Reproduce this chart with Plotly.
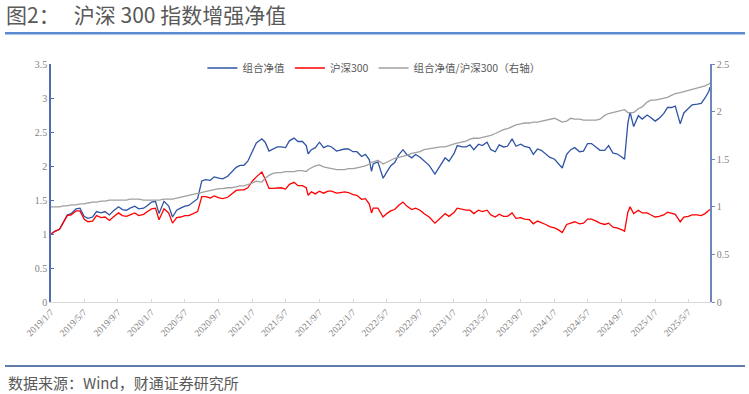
import plotly.graph_objects as go

# ---------------- data ----------------
dates = [
    # 2019
    "2019-01-07", "2019-01-21", "2019-02-07", "2019-02-21", "2019-03-07", "2019-03-21",
    "2019-04-08", "2019-04-22", "2019-05-07", "2019-05-21", "2019-06-07", "2019-06-21",
    "2019-07-08", "2019-07-22", "2019-08-07", "2019-08-21", "2019-09-09", "2019-09-23",
    "2019-10-08", "2019-10-21", "2019-11-07", "2019-11-21", "2019-12-09", "2019-12-23",
    # 2020
    "2020-01-07", "2020-01-21", "2020-02-03", "2020-02-21", "2020-03-09", "2020-03-23",
    "2020-04-07", "2020-04-21", "2020-05-07", "2020-05-21", "2020-06-08", "2020-06-22",
    "2020-07-07", "2020-07-21", "2020-08-07", "2020-08-21", "2020-09-07", "2020-09-21",
    "2020-10-09", "2020-10-21", "2020-11-09", "2020-11-23", "2020-12-07", "2020-12-21",
    # 2021
    "2021-01-07", "2021-01-21", "2021-02-10", "2021-02-22", "2021-03-08", "2021-03-22",
    "2021-04-07", "2021-04-21", "2021-05-07", "2021-05-21", "2021-06-07", "2021-06-21",
    "2021-07-07", "2021-07-21", "2021-07-28", "2021-08-09", "2021-08-23", "2021-09-07",
    "2021-09-22", "2021-10-08", "2021-10-21", "2021-11-08", "2021-11-22", "2021-12-07",
    "2021-12-21",
    # 2022
    "2022-01-07", "2022-01-21", "2022-02-07", "2022-02-21", "2022-03-07", "2022-03-15",
    "2022-03-21", "2022-04-07", "2022-04-26", "2022-05-09", "2022-05-23", "2022-06-07",
    "2022-06-21", "2022-07-07", "2022-07-21", "2022-08-08", "2022-08-22", "2022-09-07",
    "2022-09-21", "2022-10-10", "2022-10-31", "2022-11-21", "2022-12-07", "2022-12-21",
    # 2023
    "2023-01-09", "2023-01-20", "2023-02-07", "2023-02-21", "2023-03-07", "2023-03-21",
    "2023-04-07", "2023-04-21", "2023-05-08", "2023-05-22", "2023-06-07", "2023-06-21",
    "2023-07-07", "2023-07-21", "2023-08-07", "2023-08-21", "2023-09-07", "2023-09-21",
    "2023-10-09", "2023-10-23", "2023-11-07", "2023-11-21", "2023-12-07", "2023-12-21",
    # 2024
    "2024-01-08", "2024-01-22", "2024-02-05", "2024-02-21", "2024-03-07", "2024-03-21",
    "2024-04-08", "2024-04-22", "2024-05-07", "2024-05-21", "2024-06-07", "2024-06-21",
    "2024-07-08", "2024-07-22", "2024-08-07", "2024-08-21", "2024-09-09", "2024-09-18",
    "2024-09-30", "2024-10-08", "2024-10-21", "2024-11-07", "2024-11-21", "2024-12-09",
    "2024-12-23",
    # 2025
    "2025-01-07", "2025-01-21", "2025-02-07", "2025-02-21", "2025-03-07", "2025-03-21",
    "2025-04-08", "2025-04-21", "2025-05-07", "2025-05-21", "2025-06-09", "2025-06-23",
    "2025-07-07", "2025-07-21", "2025-07-25",
]

portfolio_nav = [
    # 2019
    1.00, 1.04, 1.07, 1.17, 1.28, 1.30, 1.37, 1.38, 1.26, 1.23, 1.25, 1.33,
    1.31, 1.33, 1.28, 1.34, 1.40, 1.36, 1.35, 1.38, 1.41, 1.37, 1.38, 1.42,
    # 2020
    1.47, 1.48, 1.30, 1.48, 1.41, 1.25, 1.35, 1.38, 1.41, 1.42, 1.47, 1.52,
    1.78, 1.80, 1.79, 1.84, 1.82, 1.81, 1.85, 1.90, 1.98, 2.01, 2.01, 2.07,
    # 2021
    2.23, 2.34, 2.40, 2.35, 2.22, 2.25, 2.28, 2.28, 2.27, 2.37, 2.41, 2.36,
    2.36, 2.30, 2.18, 2.24, 2.27, 2.35, 2.27, 2.30, 2.28, 2.22, 2.24, 2.25,
    2.25,
    # 2022
    2.21, 2.21, 2.14, 2.17, 2.09, 1.92, 2.03, 2.06, 1.82, 1.91, 2.00, 2.05,
    2.16, 2.24, 2.17, 2.12, 2.17, 2.13, 2.08, 2.01, 1.88, 2.02, 2.12, 2.07,
    # 2023
    2.19, 2.30, 2.28, 2.28, 2.31, 2.24, 2.32, 2.30, 2.35, 2.24, 2.21, 2.31,
    2.28, 2.29, 2.40, 2.29, 2.32, 2.29, 2.27, 2.17, 2.25, 2.23, 2.18, 2.13,
    # 2024
    2.10, 2.03, 1.97, 2.17, 2.24, 2.27, 2.21, 2.22, 2.33, 2.33, 2.27, 2.23,
    2.23, 2.30, 2.19, 2.18, 2.13, 2.10, 2.63, 2.79, 2.58, 2.74, 2.69, 2.75,
    2.71,
    # 2025
    2.66, 2.70, 2.77, 2.86, 2.86, 2.88, 2.62, 2.78, 2.84, 2.90, 2.91, 2.92,
    3.00, 3.10, 3.16,
]

hs300_nav = [
    # 2019
    1.00, 1.04, 1.07, 1.16, 1.27, 1.28, 1.34, 1.34, 1.22, 1.18, 1.19, 1.27,
    1.24, 1.25, 1.20, 1.25, 1.31, 1.27, 1.26, 1.28, 1.31, 1.27, 1.29, 1.33,
    # 2020
    1.37, 1.38, 1.21, 1.37, 1.31, 1.16, 1.24, 1.25, 1.27, 1.27, 1.30, 1.33,
    1.55, 1.55, 1.53, 1.56, 1.53, 1.52, 1.54, 1.58, 1.64, 1.65, 1.65, 1.68,
    # 2021
    1.78, 1.84, 1.91, 1.81, 1.67, 1.67, 1.68, 1.68, 1.66, 1.73, 1.76, 1.71,
    1.71, 1.68, 1.57, 1.62, 1.59, 1.63, 1.60, 1.63, 1.63, 1.60, 1.61, 1.62,
    1.61,
    # 2022
    1.58, 1.57, 1.51, 1.52, 1.44, 1.31, 1.38, 1.38, 1.25, 1.30, 1.34, 1.36,
    1.42, 1.47, 1.41, 1.36, 1.38, 1.35, 1.30, 1.25, 1.16, 1.24, 1.30, 1.26,
    # 2023
    1.32, 1.38, 1.36, 1.35, 1.35, 1.30, 1.35, 1.33, 1.35, 1.28, 1.25, 1.29,
    1.26, 1.26, 1.31, 1.23, 1.24, 1.22, 1.21, 1.15, 1.19, 1.17, 1.14, 1.11,
    # 2024
    1.09, 1.06, 1.02, 1.14, 1.16, 1.18, 1.15, 1.16, 1.22, 1.22, 1.19, 1.16,
    1.14, 1.16, 1.10, 1.09, 1.06, 1.04, 1.32, 1.40, 1.30, 1.35, 1.31, 1.31,
    1.28,
    # 2025
    1.25, 1.26, 1.28, 1.32, 1.30, 1.29, 1.18, 1.25, 1.26, 1.28, 1.28, 1.27,
    1.30, 1.34, 1.36,
]

relative_nav = [
    # 2019
    1.00, 1.00, 1.00, 1.01, 1.01, 1.02, 1.02, 1.03, 1.03, 1.04, 1.05, 1.05,
    1.06, 1.06, 1.07, 1.07, 1.07, 1.07, 1.07, 1.08, 1.08, 1.08, 1.07, 1.07,
    # 2020
    1.07, 1.07, 1.07, 1.08, 1.08, 1.08, 1.09, 1.10, 1.11, 1.12, 1.13, 1.14,
    1.15, 1.16, 1.17, 1.18, 1.19, 1.19, 1.20, 1.20, 1.21, 1.22, 1.22, 1.23,
    # 2021
    1.25, 1.27, 1.26, 1.30, 1.33, 1.35, 1.36, 1.36, 1.37, 1.37, 1.37, 1.38,
    1.38, 1.37, 1.39, 1.41, 1.43, 1.44, 1.42, 1.41, 1.40, 1.39, 1.39, 1.39,
    1.40,
    # 2022
    1.40, 1.41, 1.42, 1.43, 1.45, 1.47, 1.47, 1.49, 1.45, 1.47, 1.49, 1.51,
    1.52, 1.53, 1.54, 1.56, 1.57, 1.58, 1.60, 1.61, 1.62, 1.63, 1.63, 1.64,
    # 2023
    1.66, 1.67, 1.68, 1.69, 1.71, 1.72, 1.72, 1.73, 1.74, 1.75, 1.77, 1.79,
    1.81, 1.82, 1.84, 1.86, 1.87, 1.88, 1.88, 1.89, 1.89, 1.90, 1.91, 1.92,
    # 2024
    1.93, 1.91, 1.89, 1.90, 1.93, 1.92, 1.92, 1.91, 1.91, 1.91, 1.91, 1.92,
    1.96, 1.98, 1.99, 2.00, 2.01, 2.02, 1.99, 1.99, 1.99, 2.03, 2.05, 2.10,
    2.12,
    # 2025
    2.12, 2.13, 2.14, 2.15, 2.17, 2.19, 2.20, 2.21, 2.22, 2.23, 2.25, 2.26,
    2.27, 2.29, 2.30,
]

tick_dates = [
    "2019-01-07", "2019-05-07", "2019-09-07", "2020-01-07", "2020-05-07", "2020-09-07",
    "2021-01-07", "2021-05-07", "2021-09-07", "2022-01-07", "2022-05-07", "2022-09-07",
    "2023-01-07", "2023-05-07", "2023-09-07", "2024-01-07", "2024-05-07", "2024-09-07",
    "2025-01-07", "2025-05-07",
]
tick_labels = [
    "2019/1/7", "2019/5/7", "2019/9/7", "2020/1/7", "2020/5/7", "2020/9/7",
    "2021/1/7", "2021/5/7", "2021/9/7", "2022/1/7", "2022/5/7", "2022/9/7",
    "2023/1/7", "2023/5/7", "2023/9/7", "2024/1/7", "2024/5/7", "2024/9/7",
    "2025/1/7", "2025/5/7",
]

series_names = ["组合净值", "沪深300", "组合净值/沪深300（右轴）"]
title_text = "图2：\u00a0\u00a0\u00a0沪深 300 指数增强净值"
source_text = "数据来源：Wind，财通证券研究所"

# ---------------- figure ----------------
W, H = 749, 394
L, R, T, B = 51, 39, 64, 92
plot_w, plot_h = W - L - R, H - T - B


def px_x(x):
    return (x - L) / plot_w


def px_y(y):
    return (H - B - y) / plot_h


CJK = "Noto Sans CJK SC, Noto Sans, sans-serif"
SERIF = "Liberation Serif, Times New Roman, serif"
GREY_TXT = "#7f7f7f"

fig = go.Figure()
fig.add_trace(go.Scatter(x=dates, y=portfolio_nav, name=series_names[0], mode="lines",
                         line=dict(color="#2f54a3", width=1.3)))
fig.add_trace(go.Scatter(x=dates, y=hs300_nav, name=series_names[1], mode="lines",
                         line=dict(color="#ff0000", width=1.3)))
fig.add_trace(go.Scatter(x=dates, y=relative_nav, name=series_names[2], mode="lines",
                         yaxis="y2", line=dict(color="#a0a0a0", width=1.3)))

fig.update_layout(
    width=W, height=H,
    margin=dict(l=L, r=R, t=T, b=B, pad=0),
    paper_bgcolor="white", plot_bgcolor="white",
    showlegend=True,
    legend=dict(orientation="h", x=0.49, xanchor="center", y=px_y(68), yanchor="middle",
                font=dict(family=CJK, size=10.5, color="#595959"),
                bgcolor="rgba(0,0,0,0)", itemwidth=30, tracegroupgap=0),
    title=dict(text=title_text, x=6 / W, xanchor="left", xref="container",
               y=1 - 16 / H, yanchor="middle",
               font=dict(family=CJK, size=21, color="#595959")),
    xaxis=dict(type="date", range=["2019-01-07", "2025-07-25"],
               tickmode="array", tickvals=tick_dates, ticktext=tick_labels,
               tickangle=-45, tickfont=dict(family=SERIF, size=9.5, color=GREY_TXT),
               showline=True, linecolor="#d9d9d9", linewidth=1,
               ticks="inside", ticklen=3, tickcolor="#d9d9d9",
               showgrid=False, zeroline=False),
    yaxis=dict(range=[0, 3.5], dtick=0.5, tick0=0,
               tickfont=dict(family=SERIF, size=10, color=GREY_TXT),
               showline=True, linecolor="#4e6cae", linewidth=1.5,
               ticks="inside", ticklen=3, tickcolor="#4e6cae",
               showgrid=False, zeroline=False),
    yaxis2=dict(range=[0, 2.5], dtick=0.5, tick0=0, overlaying="y", side="right",
                tickfont=dict(family=SERIF, size=10, color=GREY_TXT),
                showline=True, linecolor="#6f86b8", linewidth=1.5,
                ticks="outside", ticklen=3, tickcolor="#6f86b8",
                showgrid=False, zeroline=False),
    shapes=[
        dict(type="rect", xref="paper", yref="paper",
             x0=px_x(5), x1=px_x(745), y0=px_y(34.5), y1=px_y(32),
             fillcolor="#5b8ad0", line=dict(width=0)),
        dict(type="line", xref="paper", yref="paper",
             x0=px_x(5), x1=px_x(745), y0=px_y(366), y1=px_y(366),
             line=dict(color="#2a4f8f", width=1.5)),
    ],
)

fig.add_annotation(text=source_text, xref="paper", yref="paper",
                   x=px_x(6), y=px_y(382), xanchor="left", yanchor="middle",
                   showarrow=False, font=dict(family=CJK, size=15, color="#595959"))

fig.write_html("out.html",
               config={"displayModeBar": False},
               post_script="document.body.style.margin='0';")
